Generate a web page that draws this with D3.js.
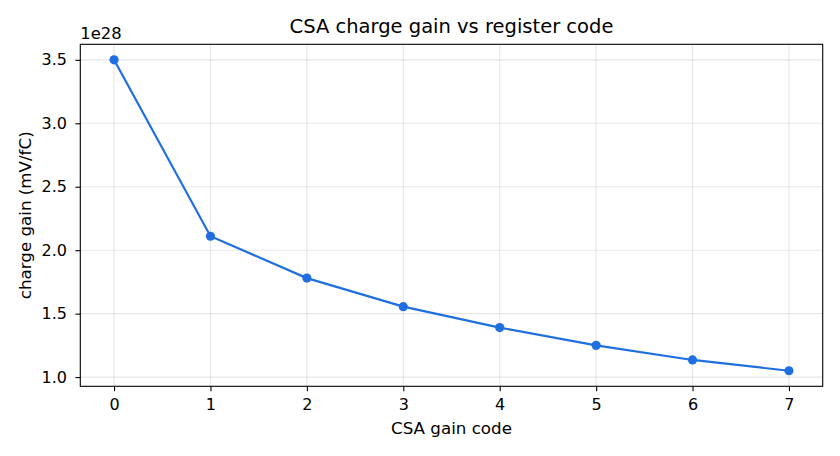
<!DOCTYPE html>
<html>
<head>
<meta charset="utf-8">
<script src="https://cdn.jsdelivr.net/npm/d3@7"></script>
<style>
  body { margin: 0; background: #fff; }
  text { font-family: "DejaVu Sans", sans-serif; fill: #000; }
  .tick text { font-size: 16px; }
  .grid line { stroke: #b0b0b0; stroke-opacity: 0.3; stroke-width: 1.1px; }
</style>
</head>
<body>
<svg id="chart" width="840" height="456"></svg>
<script>
// gain codes and measured charge gain (x 1e28 mV/fC)
var codes = [0, 1, 2, 3, 4, 5, 6, 7];
var gain = [3.5, 2.11, 1.78, 1.555, 1.39, 1.25, 1.135, 1.05];
var yTicks = [1.0, 1.5, 2.0, 2.5, 3.0, 3.5];
var xTicks = [0, 1, 2, 3, 4, 5, 6, 7];

var margin = {left: 80.3, right: 17.3, top: 44.3, bottom: 69.7},
    width = 840 - margin.left - margin.right,
    height = 456 - margin.top - margin.bottom;

var svg = d3.select('#chart');
var g = svg.append('g').attr('transform', `translate(${margin.left},${margin.top})`);

// matplotlib style 5% padding
var xPad = (d3.max(codes) - d3.min(codes)) * 0.05;
var yPad = (d3.max(gain) - d3.min(gain)) * 0.05;

var x = d3.scaleLinear()
    .domain([d3.min(codes) - xPad, d3.max(codes) + xPad])
    .range([0, width]);
var y = d3.scaleLinear()
    .domain([d3.min(gain) - yPad, d3.max(gain) + yPad])
    .range([height, 0]);

// grid
g.append('g').attr('class', 'grid')
  .selectAll('line').data(xTicks).join('line')
  .attr('x1', d => x(d)).attr('x2', d => x(d))
  .attr('y1', 0).attr('y2', height);
g.append('g').attr('class', 'grid')
  .selectAll('line').data(yTicks).join('line')
  .attr('x1', 0).attr('x2', width)
  .attr('y1', d => y(d)).attr('y2', d => y(d));

// axes
var xAxis = g.append('g')
  .attr('transform', `translate(0,${height})`)
  .call(d3.axisBottom(x).tickValues(xTicks).tickFormat(d3.format('d')).tickSize(4.9).tickPadding(7.8).tickSizeOuter(0));
var yAxis = g.append('g')
  .call(d3.axisLeft(y).tickValues(yTicks).tickFormat(d3.format('.1f')).tickSize(4.9).tickPadding(8.5).tickSizeOuter(0));
[xAxis, yAxis].forEach(a => {
  a.select('.domain').remove();
  a.selectAll('.tick line').attr('stroke', '#000').attr('stroke-width', 1.1);
  a.selectAll('.tick text').attr('fill', '#000');
});

// line and markers
var line = d3.line().x((d, i) => x(codes[i])).y(d => y(d));
g.append('path')
  .datum(gain)
  .attr('fill', 'none')
  .attr('stroke', '#1f6fe0')
  .attr('stroke-width', 2.2)
  .attr('d', line);
g.selectAll('.dot').data(gain).join('circle')
  .attr('class', 'dot')
  .attr('cx', (d, i) => x(codes[i]))
  .attr('cy', d => y(d))
  .attr('r', 4.6)
  .attr('fill', '#1f6fe0');

// frame
g.append('rect')
  .attr('width', width).attr('height', height)
  .attr('fill', 'none').attr('stroke', '#000').attr('stroke-width', 1.1);

// texts
svg.append('text')
  .attr('x', margin.left + width / 2).attr('y', 33)
  .attr('text-anchor', 'middle').style('font-size', '19.5px')
  .text('CSA charge gain vs register code');
svg.append('text')
  .attr('x', margin.left).attr('y', 39)
  .style('font-size', '16.4px')
  .text('1e28');
svg.append('text')
  .attr('x', margin.left + width / 2).attr('y', 434)
  .attr('text-anchor', 'middle').style('font-size', '16.7px')
  .text('CSA gain code');
svg.append('text')
  .attr('transform', `translate(31,${margin.top + height / 2}) rotate(-90)`)
  .attr('text-anchor', 'middle').style('font-size', '16.7px')
  .text('charge gain (mV/fC)');
</script>
</body>
</html>
